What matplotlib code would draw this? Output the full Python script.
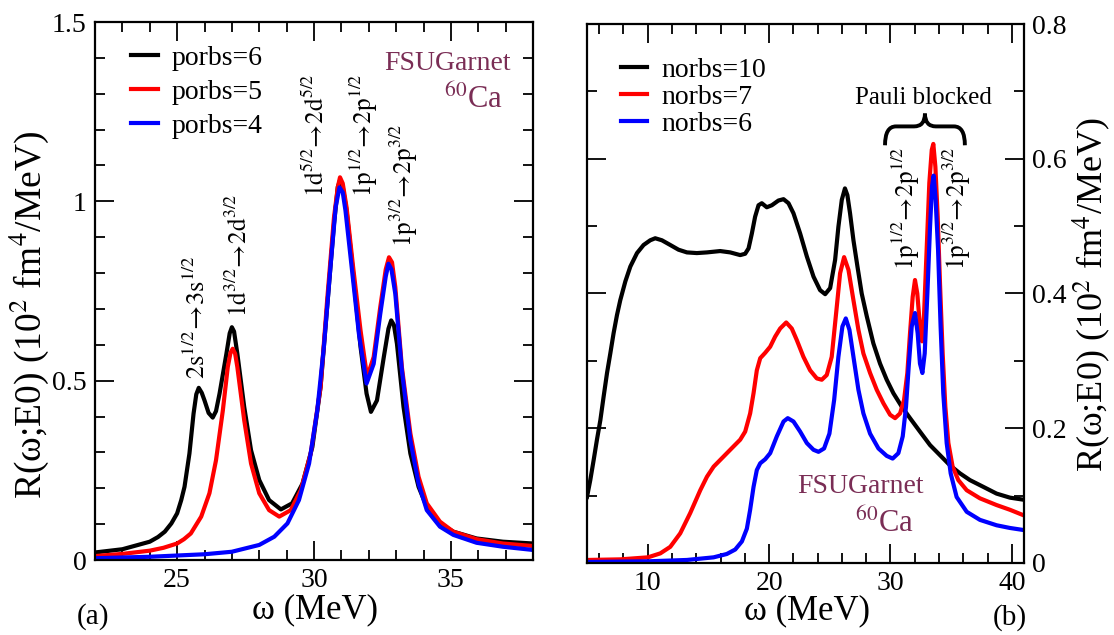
import numpy as np
import matplotlib.pyplot as plt
from matplotlib.path import Path
from matplotlib.patches import PathPatch
from matplotlib.ticker import MultipleLocator, FuncFormatter

plt.rcParams['font.family'] = ['Liberation Serif', 'DejaVu Serif']
plt.rcParams['mathtext.fontset'] = 'stix'

# ---- panel (a): proton orbitals ----
w_p6 = [22, 23, 24, 24.3, 24.55, 24.79, 25, 25.15, 25.27, 25.45, 25.6, 25.7, 25.79, 25.9, 26.0,
        26.15, 26.3, 26.42, 26.55, 26.8, 26.92, 27.0, 27.08, 27.2, 27.45, 27.7, 28.0, 28.36,
        28.79, 29.2, 29.58, 29.94, 30.24, 30.48, 30.73, 30.87, 30.95, 31.05, 31.19, 31.43,
        31.7, 31.92, 32.08, 32.3, 32.55, 32.72, 32.82, 32.92, 33.03, 33.27, 33.52, 33.82,
        34.12, 34.6, 35.09, 35.94, 36.9, 38.0]
r_p6 = [0.021, 0.030, 0.051, 0.064, 0.079, 0.102, 0.13, 0.167, 0.204, 0.297, 0.408, 0.462,
        0.480, 0.466, 0.445, 0.41, 0.397, 0.415, 0.464, 0.575, 0.632, 0.649, 0.637, 0.575,
        0.427, 0.306, 0.223, 0.167, 0.141, 0.158, 0.213, 0.315, 0.482, 0.705, 0.937, 1.04,
        1.058, 1.04, 0.974, 0.798, 0.594, 0.464, 0.413, 0.445, 0.566, 0.645, 0.668, 0.655,
        0.603, 0.427, 0.297, 0.204, 0.148, 0.102, 0.079, 0.060, 0.051, 0.046]

w_p5 = [22, 23, 24, 24.5, 25, 25.25, 25.5, 25.88, 26.18, 26.42, 26.67, 26.85, 26.95, 27.03,
        27.12, 27.2, 27.45, 27.7, 28.0, 28.36, 28.73, 29.15, 29.52, 29.88, 30.24, 30.48,
        30.73, 30.87, 30.95, 31.05, 31.19, 31.43, 31.7, 31.94, 32.18, 32.42, 32.62, 32.74,
        32.85, 32.97, 33.21, 33.52, 33.82, 34.12, 34.6, 35.09, 35.94, 36.9, 38.0]
r_p5 = [0.011, 0.017, 0.026, 0.034, 0.046, 0.058, 0.074, 0.121, 0.186, 0.278, 0.417, 0.538,
        0.578, 0.589, 0.575, 0.538, 0.39, 0.269, 0.186, 0.139, 0.121, 0.139, 0.195, 0.297,
        0.482, 0.724, 0.955, 1.04, 1.067, 1.05, 0.983, 0.816, 0.640, 0.510, 0.566, 0.705,
        0.81, 0.844, 0.83, 0.761, 0.538, 0.353, 0.232, 0.158, 0.107, 0.079, 0.058, 0.046,
        0.039]

w_p4 = [22, 24, 26, 27, 28, 28.55, 29.03, 29.45, 29.82, 30.12, 30.36, 30.6, 30.79, 30.93,
        31.05, 31.15, 31.39, 31.64, 31.92, 32.18, 32.42, 32.62, 32.72, 32.83, 32.97, 33.21,
        33.52, 33.82, 34.12, 34.6, 35.09, 35.94, 36.9, 38.0]
r_p4 = [0.005, 0.009, 0.016, 0.023, 0.042, 0.065, 0.102, 0.167, 0.269, 0.417, 0.594, 0.816,
        0.983, 1.039, 1.025, 0.974, 0.807, 0.631, 0.492, 0.547, 0.686, 0.79, 0.826, 0.81,
        0.742, 0.529, 0.334, 0.213, 0.139, 0.093, 0.070, 0.048, 0.037, 0.028]

# ---- panel (b): neutron orbitals ----
w_n10 = [5.00, 5.27, 5.55, 5.82, 6.10, 6.37, 6.65, 6.92, 7.19, 7.47, 7.74, 8.16, 8.57, 9.12,
         9.66, 10.21, 10.62, 11.17, 11.86, 12.54, 13.23, 14.05, 14.88, 15.97, 16.80, 17.62,
         18.03, 18.31, 18.58, 18.85, 19.13, 19.40, 19.81, 20.23, 20.77, 21.19, 21.60, 22.01,
         22.56, 23.11, 23.66, 24.20, 24.62, 25.03, 25.44, 25.71, 25.99, 26.25, 26.45, 26.67,
         26.95, 27.28, 27.63, 28.05, 28.59, 29.14, 29.69, 30.24, 30.93, 31.61, 32.43, 33.26,
         34.08, 34.90, 35.73, 36.55, 37.65, 38.74, 39.84, 40.94]
r_n10 = [0.098, 0.123, 0.153, 0.183, 0.212, 0.247, 0.282, 0.311, 0.341, 0.368, 0.390, 0.418,
         0.440, 0.460, 0.472, 0.479, 0.482, 0.479, 0.472, 0.465, 0.461, 0.460, 0.461, 0.463,
         0.461, 0.457, 0.459, 0.467, 0.489, 0.514, 0.531, 0.534, 0.528, 0.531, 0.538, 0.540,
         0.534, 0.519, 0.489, 0.455, 0.425, 0.405, 0.399, 0.408, 0.450, 0.499, 0.539, 0.556,
         0.546, 0.519, 0.479, 0.440, 0.400, 0.366, 0.326, 0.296, 0.272, 0.252, 0.232, 0.215,
         0.195, 0.175, 0.160, 0.145, 0.133, 0.123, 0.113, 0.103, 0.097, 0.094]

w_n7 = [5.00, 7.74, 10.02, 11.04, 11.86, 12.68, 13.50, 14.33, 14.88, 15.43, 16.25, 17.07,
        17.62, 18.03, 18.44, 18.72, 18.99, 19.27, 19.68, 20.09, 20.50, 20.91, 21.41, 21.87,
        22.28, 22.83, 23.38, 23.93, 24.34, 24.75, 25.16, 25.58, 25.85, 26.18, 26.54, 26.95,
        27.36, 27.77, 28.32, 28.87, 29.42, 29.97, 30.38, 30.79, 31.12, 31.39, 31.61, 31.83,
        32.02, 32.21, 32.43, 32.60, 32.76, 32.98, 33.20, 33.40, 33.53, 33.70, 33.89, 34.08,
        34.30, 34.52, 34.77, 35.12, 35.59, 36.28, 37.37, 38.74, 39.84, 40.94]
r_n7 = [0.0045, 0.0054, 0.0084, 0.0143, 0.024, 0.044, 0.074, 0.108, 0.128, 0.143, 0.158,
        0.173, 0.183, 0.195, 0.222, 0.252, 0.286, 0.304, 0.312, 0.321, 0.336, 0.348, 0.357,
        0.348, 0.331, 0.306, 0.286, 0.274, 0.272, 0.279, 0.306, 0.381, 0.430, 0.454, 0.435,
        0.390, 0.346, 0.311, 0.282, 0.257, 0.237, 0.220, 0.215, 0.222, 0.242, 0.282, 0.341,
        0.395, 0.420, 0.400, 0.351, 0.329, 0.366, 0.465, 0.564, 0.613, 0.622, 0.588, 0.514,
        0.415, 0.311, 0.232, 0.178, 0.143, 0.123, 0.108, 0.096, 0.086, 0.079, 0.071]

w_n6 = [5.00, 10.02, 13.23, 15.43, 16.52, 17.21, 17.76, 18.17, 18.44, 18.72, 18.99, 19.27,
        19.68, 20.09, 20.64, 21.19, 21.54, 22.01, 22.56, 23.11, 23.66, 24.07, 24.53, 24.97,
        25.36, 25.71, 26.04, 26.32, 26.62, 26.95, 27.36, 27.77, 28.32, 29.01, 29.69, 30.18,
        30.65, 31.01, 31.28, 31.50, 31.75, 32.02, 32.24, 32.43, 32.63, 32.82, 33.04, 33.26,
        33.42, 33.56, 33.72, 33.92, 34.13, 34.35, 34.63, 34.96, 35.45, 36.28, 37.37, 38.74,
        39.84, 40.94]
r_n6 = [0.0015, 0.0025, 0.0045, 0.0084, 0.0134, 0.020, 0.032, 0.051, 0.079, 0.113, 0.138,
        0.148, 0.154, 0.163, 0.188, 0.210, 0.215, 0.210, 0.195, 0.178, 0.168, 0.165, 0.170,
        0.192, 0.242, 0.306, 0.351, 0.363, 0.346, 0.306, 0.257, 0.222, 0.192, 0.170, 0.159,
        0.155, 0.163, 0.188, 0.232, 0.291, 0.351, 0.371, 0.341, 0.296, 0.282, 0.311, 0.400,
        0.499, 0.559, 0.575, 0.539, 0.465, 0.351, 0.252, 0.178, 0.133, 0.098, 0.076, 0.064,
        0.056, 0.052, 0.049]

garnet = '#7a2d55'
lw = 3.0

fig = plt.figure(figsize=(11.14, 6.35), dpi=100)
ax1 = fig.add_axes([95/1114, 75/635, 438/1114, 538/635])
ax2 = fig.add_axes([587/1114, 72/635, 437/1114, 539/635])

fmt = FuncFormatter(lambda v, p: '{:g}'.format(round(v, 3)))


def style_axes(ax):
    for s in ax.spines.values():
        s.set_linewidth(1.6)
    ax.tick_params(which='both', direction='in', top=True, bottom=True, left=True,
                   right=True, labelsize=20, width=1.3)
    ax.tick_params(which='major', length=14)
    ax.tick_params(which='minor', length=7)
    ax.yaxis.set_major_formatter(fmt)


def trans(a, b, j):
    return r'$\mathrm{%s^{%s}\!\rightarrow\!%s^{%s}}$' % (a, j, b, j)


# panel (a)
ax1.plot(w_p6, r_p6, color='black', lw=lw, label='porbs=6')
ax1.plot(w_p5, r_p5, color='red', lw=lw, label='porbs=5')
ax1.plot(w_p4, r_p4, color='blue', lw=lw, label='porbs=4')
ax1.set_xlim(22, 38)
ax1.set_ylim(0, 1.5)
ax1.xaxis.set_major_locator(MultipleLocator(5))
ax1.xaxis.set_minor_locator(MultipleLocator(1))
ax1.yaxis.set_major_locator(MultipleLocator(0.5))
ax1.yaxis.set_minor_locator(MultipleLocator(0.1))
style_axes(ax1)
ax1.tick_params(axis='x', pad=6)
ax1.tick_params(axis='y', pad=6)
ax1.legend(loc='upper left', bbox_to_anchor=(0.051, 0.982), frameon=False, fontsize=20,
           handlelength=0.95, handletextpad=0.5, labelspacing=0.3, borderpad=0)

lab_kw = dict(rotation=90, ha='center', va='bottom', fontsize=20)
tr_labels = [
    ax1.text(25.71, 0.505, trans('2s', '3s', '1/2'), **lab_kw),
    ax1.text(27.24, 0.678, trans('1d', '2d', '3/2'), **lab_kw),
    ax1.text(30.07, 1.013, trans('1d', '2d', '5/2'), **lab_kw),
    ax1.text(31.81, 1.013, trans('1p', '2p', '1/2'), **lab_kw),
    ax1.text(33.27, 0.873, trans('1p', '2p', '3/2'), **lab_kw),
]
ax1.text(37.18, 1.385, 'FSUGarnet', color=garnet, fontsize=20, ha='right', va='center')
ax1.text(36.91, 1.262, r'$^{60}$Ca', color=garnet, fontsize=22, ha='right', va='baseline')

# panel (b)
ax2.plot(w_n10, r_n10, color='black', lw=lw, label='norbs=10')
ax2.plot(w_n7, r_n7, color='red', lw=lw, label='norbs=7')
ax2.plot(w_n6, r_n6, color='blue', lw=lw, label='norbs=6')
ax2.set_xlim(5, 41)
ax2.set_ylim(0, 0.8)
ax2.xaxis.set_major_locator(MultipleLocator(10))
ax2.xaxis.set_minor_locator(MultipleLocator(2))
ax2.yaxis.set_major_locator(MultipleLocator(0.2))
ax2.yaxis.set_minor_locator(MultipleLocator(0.1))
style_axes(ax2)
ax2.tick_params(axis='y', labelleft=False, labelright=True, pad=6)
ax2.tick_params(axis='x', pad=6)
ax2.legend(loc='upper left', bbox_to_anchor=(0.046, 0.964), frameon=False, fontsize=20,
           handlelength=0.95, handletextpad=0.5, labelspacing=0.06, borderpad=0)

tr_labels += [
    ax2.text(31.26, 0.435, trans('1p', '2p', '1/2'), **lab_kw),
    ax2.text(35.45, 0.435, trans('1p', '2p', '3/2'), **lab_kw),
]
ax2.text(32.74, 0.69, 'Pauli blocked', fontsize=18, ha='center', va='center')
ax2.text(27.49, 0.113, 'FSUGarnet', color=garnet, fontsize=20, ha='center', va='center')
ax2.text(31.89, 0.0465, r'$^{60}$Ca', color=garnet, fontsize=22, ha='right', va='baseline')

# curly brace over the two blocked transitions
bx0, bx1, btip = 29.55, 36.13, 32.84
by0, bym, bytip = 0.620, 0.648, 0.667
a = 0.9
verts = [(bx0, by0), (bx0, bym), (bx0 + a, bym),
         (btip - a, bym), (btip, bym), (btip, bytip),
         (btip, bym), (btip + a, bym),
         (bx1 - a, bym), (bx1, bym), (bx1, by0)]
codes = [Path.MOVETO, Path.CURVE3, Path.CURVE3,
         Path.LINETO, Path.CURVE3, Path.CURVE3,
         Path.CURVE3, Path.CURVE3,
         Path.LINETO, Path.CURVE3, Path.CURVE3]
ax2.add_patch(PathPatch(Path(verts, codes), fill=False, lw=2.8, color='black'))

# axis labels and panel tags
fig.text(315/1114, 1 - 610/635, 'ω (MeV)', fontsize=25, ha='center', va='center')
fig.text(807/1114, 1 - 611/635, 'ω (MeV)', fontsize=25, ha='center', va='center')
ylab = r'R(ω;E0) (10$^2$ fm$^4$/MeV)'
fig.text(29/1114, 1 - 315/635, ylab, fontsize=27, rotation=90, ha='center', va='center')
fig.text(1092/1114, 1 - 295/635, ylab, fontsize=26, rotation=90, ha='center', va='center')
fig.text(93/1114, 1 - 617/635, '(a)', fontsize=21, ha='center', va='center')
fig.text(1010/1114, 1 - 618/635, '(b)', fontsize=21, ha='center', va='center')

# the transition labels are all about 123 px long in the original figure
fig.canvas.draw()
rend = fig.canvas.get_renderer()
for t in tr_labels:
    h = t.get_window_extent(rend).height
    t.set_fontsize(t.get_fontsize() * 123.0 / h)

fig.savefig('out.png', dpi=100)
